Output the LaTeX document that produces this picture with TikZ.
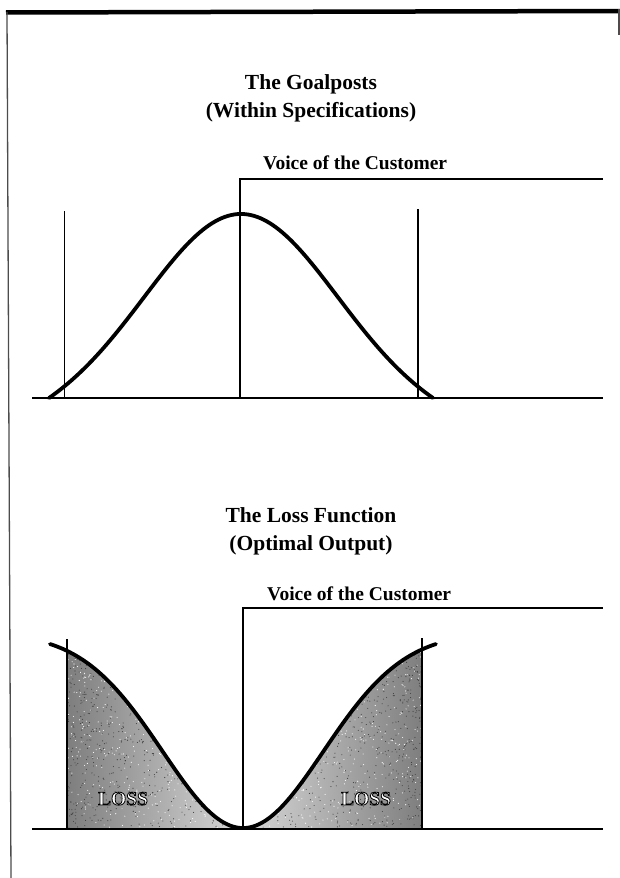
\documentclass[tikz,border=0pt]{standalone}
\usepackage{fontspec}
\setmainfont{Liberation Serif}
\newcommand\hollowtext[1]{{\color{white}\special{pdf:literal direct 0 G 0.8 w 2 Tr}#1\special{pdf:literal direct 0 Tr}}}
\tikzset{
  postline/.style={line width=1.6pt, line cap=butt},
  axisline/.style={line width=2pt},
  curveline/.style={line width=3.8pt, line join=round, line cap=round},
  vocline/.style={line width=1.6pt, line join=miter},
  titletext/.style={font=\bfseries\fontsize{21.5}{26}\selectfont, anchor=base, inner sep=0pt},
  voctext/.style={font=\bfseries\fontsize{19.5}{23}\selectfont, anchor=base west, inner sep=0pt},
  losstext/.style={font=\bfseries\fontsize{19.5}{22}\selectfont, anchor=base, inner sep=0pt},
  speck/.style={fill=black!75},
  wspeck/.style={fill=white},
}
\begin{document}
\begin{tikzpicture}[x=1pt,y=-1pt]
\pgfmathsetseed{17}
\useasboundingbox (0,0) rectangle (620,878);
% page frame
\coordinate (fTL) at (6,12.5);
\coordinate (fTR) at (620,11);
\coordinate (fLT) at (7,12);
\coordinate (fBL) at (11,878);
\coordinate (fRT) at (619,9);
\coordinate (fRB) at (619,35);
\draw[line width=4.5pt] (fTL) -- (fTR);
\draw[line width=1.3pt, black!70] (fLT) -- (fBL);
\draw[line width=1.3pt, black!70] (fRT) -- (fRB);

% ---------- top chart ----------
\node[titletext] (t1a) at (311,89) {The Goalposts};
\node[titletext] (t1b) at (311,117) {(Within Specifications)};
\node[voctext] (v1) at (263,169) {Voice of the Customer};
\coordinate (a1L) at (32,398);
\coordinate (a1R) at (603,398);
\coordinate (v1top) at (240,179);
\coordinate (v1bot) at (240,398);
\coordinate (v1end) at (603,179);
\coordinate (p1Lt) at (64.5,211);
\coordinate (p1Lb) at (64.5,398);
\coordinate (p1Rt) at (418,209);
\coordinate (p1Rb) at (418,398);
\draw[axisline] (a1L) -- (a1R);
\draw[vocline] (v1bot) -- (v1top) -- (v1end);
\draw[postline] (p1Lt) -- (p1Lb);
\draw[postline] (p1Rt) -- (p1Rb);
\draw[curveline] plot[domain=-1:1, samples=121, smooth]
  ({241+192*\x}, {398-184*(exp(-2.155*\x*\x)-0.1159*\x*\x)});

% ---------- bottom chart ----------
\node[titletext] (t2a) at (311,522) {The Loss Function};
\node[titletext] (t2b) at (311,550) {(Optimal Output)};
\node[voctext] (v2) at (267,600) {Voice of the Customer};
\coordinate (a2L) at (32,829);
\coordinate (a2R) at (603,829);
\coordinate (v2top) at (243,608);
\coordinate (v2bot) at (243,829);
\coordinate (v2end) at (603,608);
\coordinate (p2Lt) at (67,639);
\coordinate (p2Lb) at (67,829);
\coordinate (p2Rt) at (422,638);
\coordinate (p2Rb) at (422,829);
% left loss area
\begin{scope}
  \clip (p2Lb) -- plot[domain=-0.912:0, samples=60]
    ({243+193*\x},{828-184*(1-exp(-2.88*\x*\x))/0.9439}) -- cycle;
  \fill[left color=black!52, right color=black!14] (60,630) rectangle (250,835);
  \foreach \i in {1,...,700} {
    \fill[speck] ({67+176*rnd^1.4},{640+190*rnd}) circle (0.55);
  }
  \foreach \i in {1,...,500} {
    \fill[wspeck] ({67+176*rnd},{640+190*rnd}) circle (0.55);
  }
\end{scope}
% right loss area
\begin{scope}
  \clip (v2bot) -- plot[domain=0:0.927, samples=60]
    ({243+193*\x},{828-184*(1-exp(-2.88*\x*\x))/0.9439}) -- (p2Rb) -- cycle;
  \fill[left color=black!14, right color=black!52] (236,630) rectangle (430,835);
  \foreach \i in {1,...,700} {
    \fill[speck] ({422-179*rnd^1.4},{640+190*rnd}) circle (0.55);
  }
  \foreach \i in {1,...,500} {
    \fill[wspeck] ({243+179*rnd},{640+190*rnd}) circle (0.55);
  }
\end{scope}
\node[losstext] (loss1) at (123,805) {\hollowtext{LOSS}};
\node[losstext] (loss2) at (366,805) {\hollowtext{LOSS}};
\draw[axisline] (a2L) -- (a2R);
\draw[vocline] (v2bot) -- (v2top) -- (v2end);
\draw[postline] (p2Lt) -- (p2Lb);
\draw[postline] (p2Rt) -- (p2Rb);
\draw[curveline] plot[domain=-1:1, samples=121, smooth]
  ({243+193*\x},{828-184*(1-exp(-2.88*\x*\x))/0.9439});
\end{tikzpicture}
\end{document}
